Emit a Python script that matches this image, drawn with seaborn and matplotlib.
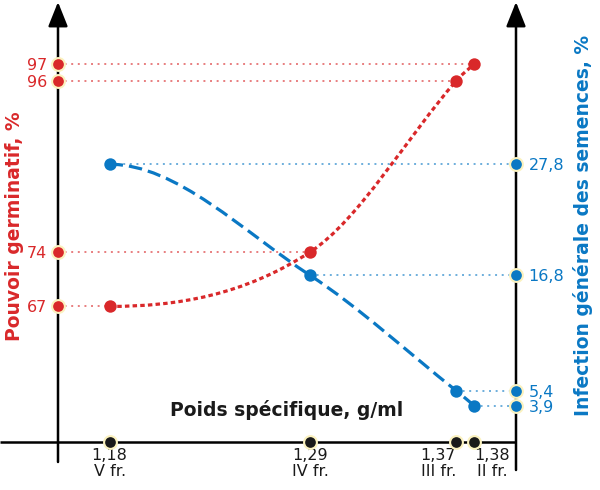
import numpy as np
import matplotlib
matplotlib.use("Agg")
import matplotlib.pyplot as plt
import seaborn as sns
from matplotlib.path import Path
from matplotlib.patches import PathPatch, ArrowStyle

# values
density = [1.18, 1.29, 1.37, 1.38]
fractions = ["V fr.", "IV fr.", "III fr.", "II fr."]
germination = [67, 74, 96, 97]
infection = [27.8, 16.8, 5.4, 3.9]

RED = "#d9282a"
BLUE = "#0a78c4"
HALO = "#fbf2bf"

sns.set_theme(style="white")
plt.rcParams["font.family"] = ["DejaVu Sans"]


# the left axis of the original is drawn stretched above 96 %
def stretch(y):
    y = np.asarray(y, dtype=float)
    return np.where(y > 96, 96 + 2.2 * (y - 96), y)


def unstretch(z):
    z = np.asarray(z, dtype=float)
    return np.where(z > 96, 96 + (z - 96) / 2.2, z)


def smooth_path(xs, ys, fwd=None, inv=None):
    # cubic bezier through the points, flat start
    xs = np.asarray(xs, float)
    zs = fwd(ys) if fwd else np.asarray(ys, float)
    n = len(xs)
    slopes = np.empty(n)
    slopes[0] = 0.0
    slopes[-1] = (zs[-1] - zs[-2]) / (xs[-1] - xs[-2])
    for i in range(1, n - 1):
        slopes[i] = (zs[i + 1] - zs[i - 1]) / (xs[i + 1] - xs[i - 1])
    verts = [(xs[0], zs[0])]
    codes = [Path.MOVETO]
    for i in range(n - 1):
        h = (xs[i + 1] - xs[i]) / 3
        verts += [(xs[i] + h, zs[i] + slopes[i] * h),
                  (xs[i + 1] - h, zs[i + 1] - slopes[i + 1] * h),
                  (xs[i + 1], zs[i + 1])]
        codes += [Path.CURVE4] * 3
    verts = np.array(verts)
    if inv:
        verts[:, 1] = inv(verts[:, 1])
    return Path(verts, codes)


fig = plt.figure(figsize=(6, 4.9), dpi=100)
ax = fig.add_axes([58 / 600, 48 / 490, 458 / 600, 440 / 490])
ax.set_yscale("function", functions=(stretch, unstretch))
ax.set_xlim(1.1517, 1.4029)
ax.set_ylim(49.56, 100.62)
ax2 = ax.twinx()
ax2.set_ylim(0.31, 43.86)

for a in (ax, ax2):
    for s in a.spines.values():
        s.set_visible(False)
    a.grid(False)

# guide lines
ax.hlines(germination, xmin=ax.get_xlim()[0], xmax=density, color=RED,
          alpha=0.6, lw=1.4, linestyle=(0, (1, 2.4)), zorder=1)
ax2.hlines(infection, xmin=density, xmax=ax.get_xlim()[1], color=BLUE,
           alpha=0.6, lw=1.4, linestyle=(0, (1, 2.4)), zorder=1)

# curves
ax.add_patch(PathPatch(smooth_path(density, germination, stretch, unstretch),
                       fill=False, edgecolor=RED, lw=2.3,
                       linestyle=(0, (1.4, 1.0)), zorder=3))
ax2.add_patch(PathPatch(smooth_path(density, infection),
                        fill=False, edgecolor=BLUE, lw=2.3,
                        linestyle=(0, (4.2, 1.9)), zorder=3))

sns.scatterplot(x=density, y=germination, ax=ax, color=RED, s=80,
                linewidth=0, zorder=5, legend=False, clip_on=False)
sns.scatterplot(x=density, y=infection, ax=ax2, color=BLUE, s=80,
                linewidth=0, zorder=5, legend=False, clip_on=False)

# axes lines with arrows
ax.plot([-58 / 458, 1], [0, 0], transform=ax.transAxes, color="black",
        lw=1.8, clip_on=False, solid_capstyle="butt", zorder=2)
head = ArrowStyle("-|>", head_length=0.75, head_width=0.3)
for xpos, ybot in [(0, -20 / 440), (1, -28 / 440)]:
    ax.annotate("", xy=(xpos, 1), xytext=(xpos, ybot), xycoords="axes fraction",
                annotation_clip=False,
                arrowprops=dict(arrowstyle=head, color="black", lw=1.8,
                                shrinkA=0, shrinkB=0, mutation_scale=20))

# dots on the axes
ax.scatter([0] * len(germination), germination, transform=ax.get_yaxis_transform(),
           s=85, color=RED, edgecolor=HALO, linewidth=1.5, zorder=6, clip_on=False)
ax2.scatter([1] * len(infection), infection, transform=ax2.get_yaxis_transform(),
            s=85, color=BLUE, edgecolor=HALO, linewidth=1.5, zorder=6, clip_on=False)
ax.scatter(density, [0] * len(density), transform=ax.get_xaxis_transform(),
           s=85, color="#1a1a1a", edgecolor=HALO, linewidth=1.5, zorder=6, clip_on=False)

# ticks
ax.set_yticks(germination, labels=[str(v) for v in germination])
ax.tick_params(axis="y", length=0, pad=8, labelcolor=RED, labelsize=11.5)
ax2.set_yticks(infection, labels=[f"{v:.1f}".replace(".", ",") for v in infection])
ax2.tick_params(axis="y", length=0, pad=9, labelcolor=BLUE, labelsize=11.5)
ax.set_xticks(density, labels=[f"{d:.2f}".replace(".", ",") + "\n" + f
                               for d, f in zip(density, fractions)])
ax.tick_params(axis="x", length=0, pad=4, labelsize=11.5, labelcolor="#1a1a1a")
xl = ax.get_xticklabels()
for t in xl:
    t.set_multialignment("center")
    t.set_linespacing(1.1)
xl[2].set_ha("right")
xl[3].set_ha("left")

fig.text(15 / 600, 1 - 226 / 490, "Pouvoir germinatif, %", rotation=90,
         ha="center", va="center", color=RED, fontsize=13.5, fontweight="bold")
fig.text(583 / 600, 1 - 225 / 490, "Infection générale des semences, %", rotation=90,
         ha="center", va="center", color=BLUE, fontsize=13.5, fontweight="bold")
fig.text(287 / 600, 1 - 410 / 490, "Poids spécifique, g/ml", ha="center",
         va="center", color="#1a1a1a", fontsize=13.5, fontweight="bold")

fig.savefig("out.png", dpi=100)
